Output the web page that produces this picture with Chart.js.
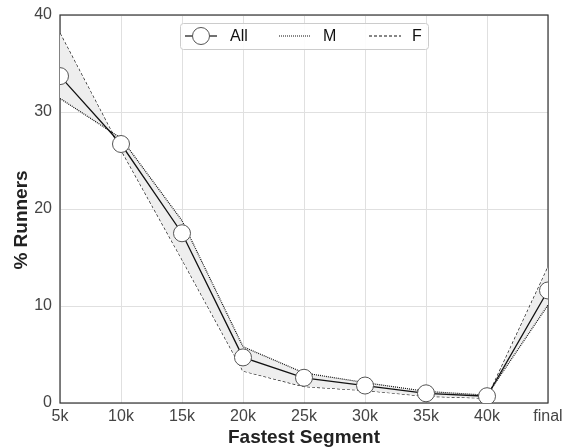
<!DOCTYPE html>
<html>
<head>
<meta charset="utf-8">
<script src="https://cdn.jsdelivr.net/npm/chart.js@4/dist/chart.umd.min.js"></script>
<style>
    html, body { margin: 0; padding: 0; background: #fff; }
    #wrap { width: 566px; height: 447px; position: relative; }
</style>
</head>
<body>
<div id="wrap"><canvas id="segmentChart"></canvas></div>
<script>
    const segments = ['5k', '10k', '15k', '20k', '25k', '30k', '35k', '40k', 'final'];
    const allRunners = [33.7, 26.7, 17.5, 4.7, 2.6, 1.8, 1.0, 0.7, 11.6];
    const maleRunners = [31.4, 27.3, 18.8, 5.8, 3.1, 2.1, 1.2, 0.8, 10.1];
    const femaleRunners = [38.1, 26.1, 14.8, 3.3, 1.7, 1.3, 0.7, 0.5, 14.0];
    const legendLabels = ['All', 'M', 'F'];
    const xTitle = 'Fastest Segment';
    const yTitle = '% Runners';

    const frameColor = '#333';
    const tickColor = '#444';
    const fontFamily = '"Liberation Sans", Arial, sans-serif';

    // box around the plot area
    const frame = {
        id: 'frame',
        beforeDatasetsDraw(chart) {
            const { ctx, chartArea } = chart;
            ctx.save();
            ctx.strokeStyle = frameColor;
            ctx.lineWidth = 1.2;
            ctx.strokeRect(chartArea.left, chartArea.top, chartArea.right - chartArea.left, chartArea.bottom - chartArea.top);
            ctx.restore();
        }
    };

    // axis titles placed by hand
    const axisTitles = {
        id: 'axisTitles',
        afterDraw(chart) {
            const { ctx, chartArea } = chart;
            ctx.save();
            ctx.fillStyle = '#222';
            ctx.font = 'bold 19px ' + fontFamily;
            ctx.textAlign = 'center';
            ctx.textBaseline = 'alphabetic';
            ctx.fillText(xTitle, (chartArea.left + chartArea.right) / 2, 443);
            ctx.translate(27, 220);
            ctx.rotate(-Math.PI / 2);
            ctx.fillText(yTitle, 0, 0);
            ctx.restore();
        }
    };

    // legend drawn inside the plot, boxed
    const boxedLegend = {
        id: 'boxedLegend',
        afterDraw(chart) {
            const ctx = chart.ctx;
            const x = 180, y = 23, w = 248, h = 26;
            ctx.save();
            ctx.fillStyle = 'rgba(255,255,255,0.9)';
            ctx.strokeStyle = '#ccc';
            ctx.lineWidth = 1;
            ctx.beginPath();
            ctx.roundRect(x + 0.5, y + 0.5, w, h, 3);
            ctx.fill();
            ctx.stroke();

            const cy = y + h / 2;
            const items = [
                { x0: 185, dash: [], label: legendLabels[0], tx: 230, marker: true },
                { x0: 279, dash: [1, 1], label: legendLabels[1], tx: 323 },
                { x0: 369, dash: [3, 2], label: legendLabels[2], tx: 412 }
            ];
            items.forEach((item) => {
                ctx.strokeStyle = '#111';
                ctx.lineWidth = 1.2;
                ctx.setLineDash(item.dash);
                ctx.beginPath();
                ctx.moveTo(item.x0, cy);
                ctx.lineTo(item.x0 + 32, cy);
                ctx.stroke();
                ctx.setLineDash([]);
                if (item.marker) {
                    ctx.beginPath();
                    ctx.arc(item.x0 + 16, cy, 8.5, 0, Math.PI * 2);
                    ctx.fillStyle = '#fff';
                    ctx.fill();
                    ctx.lineWidth = 1;
                    ctx.strokeStyle = '#555';
                    ctx.stroke();
                }
                ctx.fillStyle = '#111';
                ctx.font = '16px ' + fontFamily;
                ctx.textBaseline = 'middle';
                ctx.textAlign = 'left';
                ctx.fillText(item.label, item.tx, cy + 1);
            });
            ctx.restore();
        }
    };

    new Chart(document.getElementById('segmentChart'), {
        type: 'line',
        data: {
            labels: segments,
            datasets: [
                {
                    label: legendLabels[0],
                    data: allRunners,
                    borderColor: '#111',
                    borderWidth: 1.3,
                    pointRadius: 8.5,
                    pointHoverRadius: 8.5,
                    pointBackgroundColor: '#fff',
                    pointBorderColor: '#555',
                    pointBorderWidth: 1,
                    tension: 0,
                    fill: false,
                    clip: 0,
                    order: 0
                },
                {
                    label: legendLabels[1],
                    data: maleRunners,
                    borderColor: '#111',
                    borderWidth: 1.2,
                    borderDash: [1, 1],
                    pointRadius: 0,
                    backgroundColor: '#eeeeee',
                    fill: '+1',
                    tension: 0,
                    clip: 0,
                    order: 1
                },
                {
                    label: legendLabels[2],
                    data: femaleRunners,
                    borderColor: '#111',
                    borderWidth: 1.2,
                    borderDash: [3, 2],
                    pointRadius: 0,
                    fill: false,
                    tension: 0,
                    clip: 0,
                    order: 2
                }
            ]
        },
        options: {
            responsive: true,
            maintainAspectRatio: false,
            animation: false,
            layout: { padding: { top: 15, right: 18, left: 0, bottom: 0 } },
            plugins: {
                legend: { display: false },
                tooltip: { enabled: false }
            },
            scales: {
                x: {
                    offset: false,
                    grid: { color: '#e0e0e0', drawTicks: false },
                    border: { display: false },
                    ticks: { color: tickColor, padding: 4, maxRotation: 0, font: { family: fontFamily, size: 16 } },
                    afterFit(scale) {
                        scale.height = 44;
                        scale.paddingLeft = 0;
                        scale.paddingRight = 0;
                    }
                },
                y: {
                    min: 0,
                    max: 40,
                    grid: { color: '#e0e0e0', drawTicks: false },
                    border: { display: false },
                    ticks: { stepSize: 10, color: tickColor, padding: 8, font: { family: fontFamily, size: 16 } },
                    afterFit(scale) {
                        scale.width = 60;
                        scale.paddingTop = 0;
                        scale.paddingBottom = 0;
                    }
                }
            }
        },
        plugins: [frame, axisTitles, boxedLegend]
    });
</script>
</body>
</html>
